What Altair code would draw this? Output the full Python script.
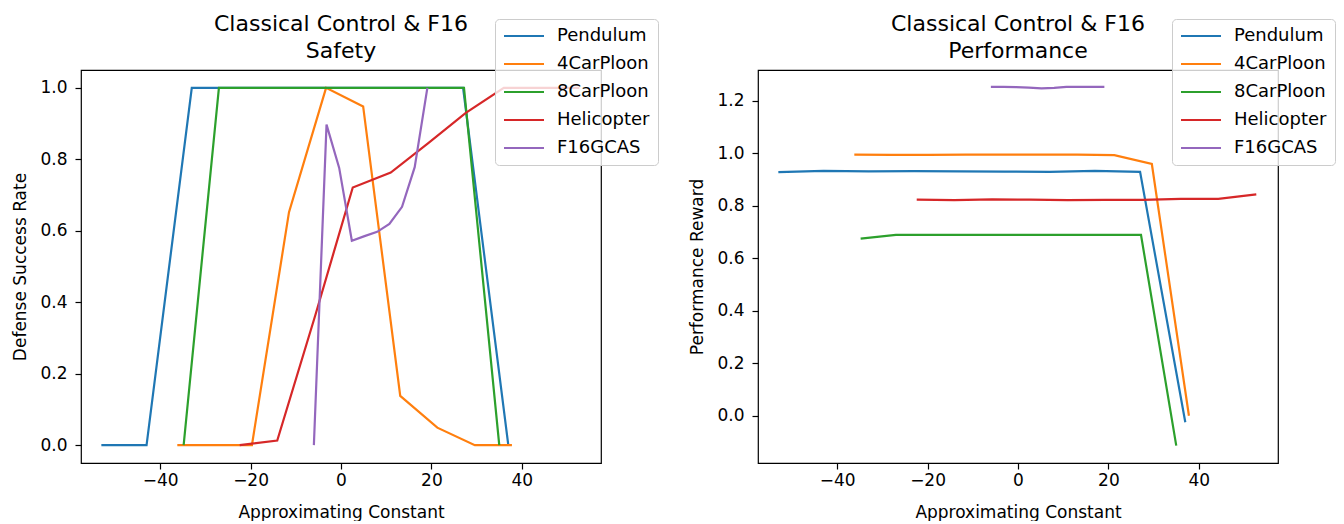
import altair as alt
import pandas as pd

names = ["Pendulum", "4CarPloon", "8CarPloon", "Helicopter", "F16GCAS"]
colors = ["#1f77b4", "#ff7f0e", "#2ca02c", "#d62728", "#9467bd"]

pend_x = [-53, -43, -33, -23, -13, -3, 7, 17, 27, 37]
car4_x = [-36.2, -28.0, -19.7, -11.5, -3.3, 4.9, 13.1, 21.3, 29.6, 37.8]
car8_x = [-34.8, -27.0, -19.3, -11.5, -3.8, 4.0, 11.7, 19.5, 27.2, 35.0]
heli_x = [-22.4, -14.1, -5.7, 2.6, 11.0, 19.3, 27.6, 36.0, 44.3, 52.7]
f16_x = [-6.0, -3.2, -0.4, 2.4, 5.2, 8.0, 10.7, 13.5, 16.3, 19.1]

pend_safety = [0, 0, 1, 1, 1, 1, 1, 1, 1, 0]
car4_safety = [0, 0, 0, 0.652, 1.0, 0.948, 0.138, 0.049, 0, 0]
car8_safety = [0, 1, 1, 1, 1, 1, 1, 1, 1, 0]
heli_safety = [0, 0.013, 0.363, 0.721, 0.763, 0.845, 0.93, 1.0, 1.0, 1.0]
f16_safety = [0, 0.897, 0.776, 0.572, 0.585, 0.597, 0.619, 0.667, 0.778, 1.0]

pend_perf = [0.928, 0.933, 0.931, 0.932, 0.931, 0.930, 0.929, 0.933, 0.929, -0.025]
car4_perf = [0.995, 0.994, 0.994, 0.995, 0.995, 0.995, 0.995, 0.993, 0.959, 0.0]
car8_perf = [0.675, 0.689, 0.689, 0.689, 0.689, 0.689, 0.689, 0.689, 0.689, -0.114]
heli_perf = [0.823, 0.821, 0.824, 0.823, 0.821, 0.822, 0.822, 0.826, 0.826, 0.843]
f16_perf = [1.253, 1.253, 1.252, 1.250, 1.247, 1.249, 1.253, 1.253, 1.253, 1.253]

xs = [pend_x, car4_x, car8_x, heli_x, f16_x]
safety = [pend_safety, car4_safety, car8_safety, heli_safety, f16_safety]
perf = [pend_perf, car4_perf, car8_perf, heli_perf, f16_perf]


def frame(ys):
    rows = []
    for i, (n, xv, yv) in enumerate(zip(names, xs, ys)):
        for a, b in zip(xv, yv):
            rows.append({"series": n, "k": i, "x": a, "y": b})
    return pd.DataFrame(rows)


FONT = "DejaVu Sans"


def legend():
    return alt.Legend(
        orient="none", legendX=414, legendY=-51, title=None,
        symbolType="M-10,0H10", symbolSize=16, symbolStrokeWidth=2.2,
        symbolOffset=12,
        labelFontSize=18, labelFont=FONT, labelColor="black",
        labelOffset=24, rowPadding=10, padding=8,
        strokeColor="#cccccc", fillColor="rgba(255,255,255,0.8)", cornerRadius=4,
    )


def panel(df, ydom, yvals, ytitle, sub):
    return alt.Chart(df).mark_line(strokeWidth=2.2).encode(
        x=alt.X("x:Q", scale=alt.Scale(domain=[-57.5, 57.5], nice=False, zero=False),
                axis=alt.Axis(values=[-40, -20, 0, 20, 40], title="Approximating Constant")),
        y=alt.Y("y:Q", scale=alt.Scale(domain=ydom, nice=False, zero=False),
                axis=alt.Axis(values=yvals, format=".1f", title=ytitle)),
        color=alt.Color("series:N", scale=alt.Scale(domain=names, range=colors),
                        sort=names, legend=legend()),
        detail="series:N",
    ).properties(
        width=520, height=393,
        title=alt.TitleParams(["Classical Control & F16", sub], offset=-44.5),
    )


left = panel(frame(safety), [-0.05, 1.05], [0, 0.2, 0.4, 0.6, 0.8, 1.0],
             "Defense Success Rate", "Safety")
right = panel(frame(perf), [-0.18, 1.317], [0, 0.2, 0.4, 0.6, 0.8, 1.0, 1.2],
              "Performance Reward", "Performance")

chart = alt.hconcat(left, right, spacing=157, bounds="flush").resolve_scale(
    x="independent", y="independent", color="independent"
).resolve_legend(color="independent").properties(
    padding={"left": 11, "top": 11, "right": 0, "bottom": 0}, background="white"
).configure_view(stroke="black", strokeWidth=1.2).configure_axis(
    grid=False, domain=False, tickColor="black", tickWidth=1.2, tickSize=6,
    labelFont=FONT, labelFontSize=17, labelColor="black", labelPadding=3,
    titleFont=FONT, titleFontSize=17, titleFontWeight="normal", titleColor="black",
).configure_axisY(labelPadding=8, titlePadding=10).configure_axisX(titlePadding=16).configure_title(
    font=FONT, fontSize=22, fontWeight="normal", color="black", lineHeight=27.5,
    anchor="middle",
)

chart.save("out.html", embed_options={"renderer": "svg", "actions": False})
